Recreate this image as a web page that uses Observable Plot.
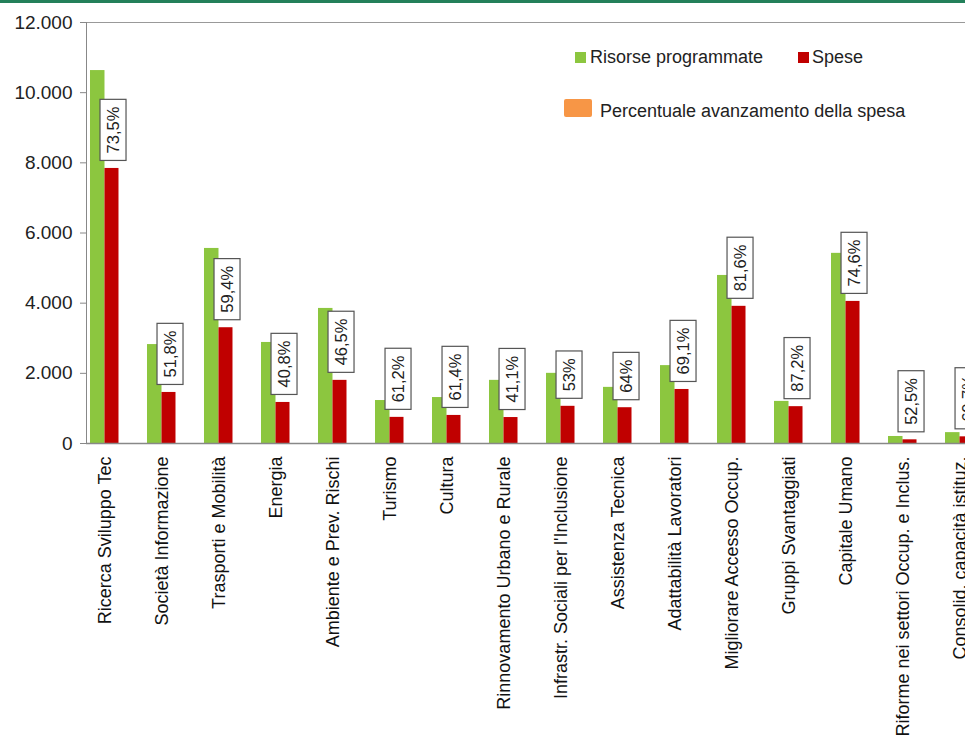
<!DOCTYPE html>
<html>
<head>
<meta charset="utf-8">
<script src="https://cdn.jsdelivr.net/npm/d3@7"></script>
<script src="https://cdn.jsdelivr.net/npm/@observablehq/plot@0.6"></script>
<style>
  html, body { margin: 0; padding: 0; background: #fff; overflow: hidden; }
  #wrap { position: relative; width: 965px; height: 741px; overflow: hidden; font-family: "Liberation Sans", Arial, sans-serif; }
  #topbar { height: 3px; background: #23805a; }
  #wrap svg { max-width: none !important; display: block; }
  .leg { position: absolute; font-size: 18px; color: #222; white-space: nowrap; line-height: 1; }
  .sw { position: absolute; }
</style>
</head>
<body>
<div id="wrap">
  <div id="topbar"></div>
  <div id="chart"></div>
  <div class="sw" style="left:575px;top:52px;width:11px;height:11px;background:#8cc63f"></div>
  <div class="leg" style="left:590px;top:48px">Risorse programmate</div>
  <div class="sw" style="left:798px;top:52px;width:11px;height:11px;background:#c00000"></div>
  <div class="leg" style="left:812px;top:48px">Spese</div>
  <div class="sw" style="left:564px;top:99px;width:28px;height:18px;background:#f79646;border-radius:2px"></div>
  <div class="leg" style="left:600px;top:102px">Percentuale avanzamento della spesa</div>
</div>
<script>
const categories = [
  "Ricerca Sviluppo Tec",
  "Società Informazione",
  "Trasporti e Mobilità",
  "Energia",
  "Ambiente e Prev. Rischi",
  "Turismo",
  "Cultura",
  "Rinnovamento Urbano e Rurale",
  "Infrastr. Sociali per l'Inclusione",
  "Assistenza Tecnica",
  "Adattabilità Lavoratori",
  "Migliorare Accesso Occup.",
  "Gruppi Svantaggiati",
  "Capitale Umano",
  "Riforme nei settori Occup. e Inclus.",
  "Consolid. capacità istituz."
];
const risorse = [10630, 2820, 5560, 2880, 3850, 1225, 1310, 1800, 2000, 1600, 2220, 4790, 1200, 5420, 200, 310];
const spese = [7840, 1455, 3300, 1170, 1800, 745, 800, 740, 1060, 1020, 1540, 3910, 1050, 4050, 105, 190];
const percentuali = [73.5, 51.8, 59.4, 40.8, 46.5, 61.2, 61.4, 41.1, 53, 64, 69.1, 81.6, 87.2, 74.6, 52.5, 60.7];
const yTicks = [0, 2000, 4000, 6000, 8000, 10000, 12000];

const data = categories.map((c, i) => ({cat: c, risorse: risorse[i], spese: spese[i], pct: percentuali[i]}));
const itFmt = d3.formatLocale({decimal: ",", thousands: ".", grouping: [3], currency: ["€", ""]}).format(",");
const pctFmt = v => String(v).replace(".", ",") + "%";

const GREEN = "#8cc63f", RED = "#c00000";

const chart = Plot.plot({
  width: 985,
  height: 800,
  marginLeft: 86,
  marginRight: 7.5,
  marginTop: 19,
  marginBottom: 360,
  style: {fontFamily: "'Liberation Sans', Arial, sans-serif", color: "#222", background: "white"},
  x: {domain: categories, paddingInner: 0.5, paddingOuter: 0.07, round: false, label: null},
  y: {domain: [0, 12000], label: null},
  marks: [
    Plot.ruleY([12000], {stroke: "#999"}),
    Plot.barY(data, {x: "cat", y: "risorse", fill: GREEN, insetRight: 14}),
    Plot.barY(data, {x: "cat", y: "spese", fill: RED, insetLeft: 14.5}),
    Plot.ruleY([0], {stroke: "#888", strokeWidth: 1.5}),
    Plot.frame({anchor: "left", stroke: "#888"}),
    Plot.axisY({ticks: yTicks, tickFormat: itFmt, tickSize: 6, tickPadding: 8, fontSize: 19, stroke: "#888", fill: "#222", label: null}),
    Plot.axisX({tickRotate: -90, tickSize: 0, tickPadding: 13, fontSize: 18, fill: "#111", label: null}),
    Plot.text(data, {x: "cat", y: "spese", text: d => pctFmt(d.pct), rotate: -90, textAnchor: "start", lineAnchor: "middle", dx: 9, dy: -15, fontSize: 16.5, fill: "#222"})
  ]
});
document.getElementById("chart").append(chart);

d3.select(chart).selectAll("text")
  .filter(function () { return /%$/.test(this.textContent) && this.getAttribute("transform"); })
  .each(function () {
    const node = this;
    const bb = node.getBBox();
    d3.select(node.parentNode).insert("rect", () => node)
      .attr("transform", node.getAttribute("transform"))
      .attr("x", bb.x - 7)
      .attr("y", bb.y - 4)
      .attr("width", bb.width + 14)
      .attr("height", bb.height + 8)
      .attr("fill", "white")
      .attr("stroke", "#555")
      .attr("stroke-width", 1.2);
  });
</script>
</body>
</html>
